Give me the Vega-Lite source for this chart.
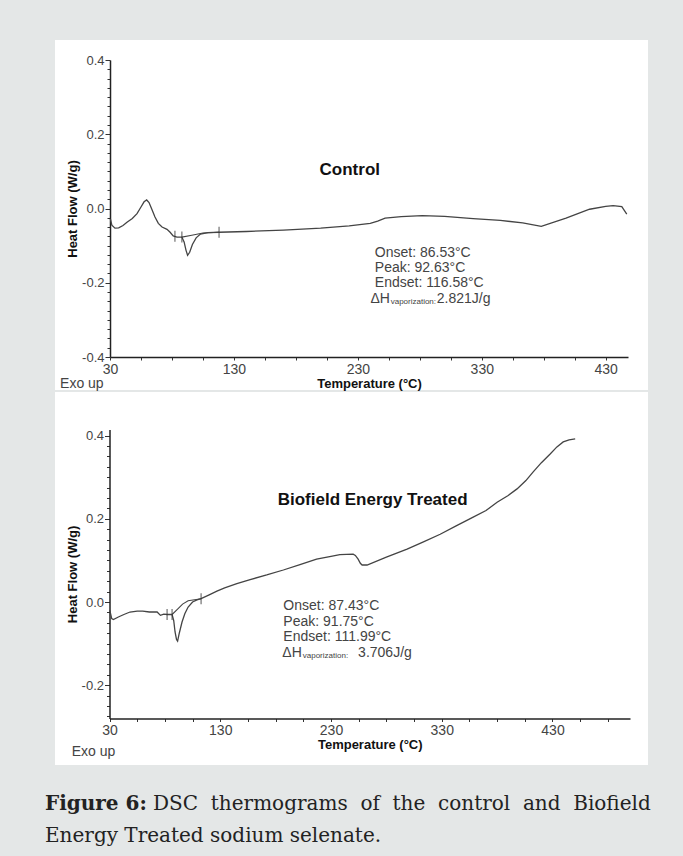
{
  "$schema": "https://vega.github.io/schema/vega-lite/v6.json",
  "background": "#e4e7e7",
  "padding": {"left": 45, "top": 40, "right": 40, "bottom": 30},
  "spacing": 0,
  "config": {"view": {"stroke": null}, "font": "Liberation Sans"},
  "title": {
    "text": "Figure 6:",
    "subtitle": ["\u200b\u00a0\u00a0\u00a0\u00a0\u00a0\u00a0\u00a0\u00a0\u00a0\u00a0\u00a0\u00a0\u00a0\u00a0\u00a0\u00a0\u00a0DSC \u00a0thermograms \u00a0of \u00a0the \u00a0control \u00a0and \u00a0Biofield", "Energy Treated sodium selenate."],
    "orient": "bottom", "anchor": "start", "dx": -10, "offset": 29,
    "font": "DejaVu Serif", "fontSize": 20, "fontWeight": "bold", "color": "#222", "lineHeight": 20,
    "subtitleFont": "DejaVu Serif", "subtitleFontSize": 20, "subtitleFontWeight": "normal", "subtitleColor": "#222",
    "subtitleLineHeight": 32, "subtitlePadding": -20
  },
  "datasets": {
    "control": [
      {"T": 30.3, "hf": -0.028}, {"T": 31.5, "hf": -0.045}, {"T": 34, "hf": -0.053}, {"T": 37, "hf": -0.052},
      {"T": 40.5, "hf": -0.046}, {"T": 43.7, "hf": -0.037}, {"T": 48, "hf": -0.027}, {"T": 51.8, "hf": -0.014},
      {"T": 55, "hf": 0.004}, {"T": 57.5, "hf": 0.018}, {"T": 59.6, "hf": 0.023}, {"T": 61.5, "hf": 0.016},
      {"T": 63.5, "hf": 0.0}, {"T": 66.3, "hf": -0.023}, {"T": 69, "hf": -0.04}, {"T": 72, "hf": -0.05},
      {"T": 76, "hf": -0.056}, {"T": 78.5, "hf": -0.064}, {"T": 81, "hf": -0.074}, {"T": 84, "hf": -0.077},
      {"T": 88, "hf": -0.077}, {"T": 89.8, "hf": -0.09}, {"T": 91.3, "hf": -0.112}, {"T": 92.6, "hf": -0.126},
      {"T": 94.3, "hf": -0.118}, {"T": 96.5, "hf": -0.097}, {"T": 99.5, "hf": -0.079}, {"T": 103, "hf": -0.069},
      {"T": 109, "hf": -0.065}, {"T": 118, "hf": -0.064}, {"T": 140, "hf": -0.062}, {"T": 170, "hf": -0.058},
      {"T": 200, "hf": -0.053}, {"T": 223, "hf": -0.047}, {"T": 240, "hf": -0.04}, {"T": 246, "hf": -0.034},
      {"T": 252, "hf": -0.026}, {"T": 265, "hf": -0.022}, {"T": 282, "hf": -0.019}, {"T": 300, "hf": -0.021},
      {"T": 323, "hf": -0.027}, {"T": 345, "hf": -0.032}, {"T": 363, "hf": -0.039}, {"T": 378, "hf": -0.048},
      {"T": 398, "hf": -0.026}, {"T": 417, "hf": -0.002}, {"T": 430, "hf": 0.006}, {"T": 436, "hf": 0.008},
      {"T": 443, "hf": 0.005}, {"T": 447, "hf": -0.015}
    ],
    "control_base": [
      {"T": 88, "hf": -0.077}, {"T": 96, "hf": -0.072}, {"T": 105, "hf": -0.066}, {"T": 118, "hf": -0.064}
    ],
    "control_marks": [
      {"T": 82.4, "hf": -0.075}, {"T": 88, "hf": -0.077}, {"T": 118, "hf": -0.064}
    ],
    "control_name": [{"label": "Control", "T": 223.5, "hf": 0.103}],
    "control_ann": [
      {"label": "Onset: 86.53°C", "T": 243.7, "hf": -0.119},
      {"label": "Peak:  92.63°C", "T": 243.7, "hf": -0.159},
      {"label": "Endset: 116.58°C", "T": 243.7, "hf": -0.2},
      {"label": "ΔH", "T": 240.2, "hf": -0.243},
      {"label": "2.821J/g", "T": 293.7, "hf": -0.243},
      {"label": "Exo up", "T": -10.3, "hf": -0.473}
    ],
    "control_sub": [{"label": "vaporization:", "T": 256.5, "hf": -0.251}],
    "treated": [
      {"T": 30.3, "hf": -0.02}, {"T": 32, "hf": -0.04}, {"T": 33.5, "hf": -0.042}, {"T": 38, "hf": -0.036},
      {"T": 43, "hf": -0.03}, {"T": 48.5, "hf": -0.024}, {"T": 55, "hf": -0.022}, {"T": 60, "hf": -0.022},
      {"T": 66, "hf": -0.024}, {"T": 73, "hf": -0.024}, {"T": 76, "hf": -0.032}, {"T": 79, "hf": -0.029},
      {"T": 82, "hf": -0.03}, {"T": 86.5, "hf": -0.03}, {"T": 88, "hf": -0.045}, {"T": 89.2, "hf": -0.072},
      {"T": 90.5, "hf": -0.09}, {"T": 91.5, "hf": -0.094}, {"T": 93, "hf": -0.075}, {"T": 95.5, "hf": -0.048},
      {"T": 98, "hf": -0.028}, {"T": 101, "hf": -0.012}, {"T": 105, "hf": 0.0}, {"T": 109, "hf": 0.005},
      {"T": 112.7, "hf": 0.008}, {"T": 120, "hf": 0.017}, {"T": 127, "hf": 0.026}, {"T": 134, "hf": 0.034},
      {"T": 145, "hf": 0.044}, {"T": 157, "hf": 0.054}, {"T": 172, "hf": 0.065}, {"T": 187, "hf": 0.077},
      {"T": 202, "hf": 0.09}, {"T": 217, "hf": 0.103}, {"T": 230, "hf": 0.11}, {"T": 238, "hf": 0.114},
      {"T": 250, "hf": 0.115}, {"T": 252, "hf": 0.112}, {"T": 254.5, "hf": 0.103}, {"T": 256.5, "hf": 0.093},
      {"T": 258.1, "hf": 0.089}, {"T": 262.6, "hf": 0.089}, {"T": 280, "hf": 0.108}, {"T": 298.7, "hf": 0.127},
      {"T": 314, "hf": 0.145}, {"T": 328.6, "hf": 0.163}, {"T": 343, "hf": 0.183}, {"T": 358.4, "hf": 0.204},
      {"T": 370, "hf": 0.22}, {"T": 380, "hf": 0.24}, {"T": 390, "hf": 0.256}, {"T": 398, "hf": 0.272},
      {"T": 406, "hf": 0.292}, {"T": 412.6, "hf": 0.313}, {"T": 420, "hf": 0.335}, {"T": 427.9, "hf": 0.356},
      {"T": 434, "hf": 0.373}, {"T": 439.7, "hf": 0.385}, {"T": 445, "hf": 0.39}, {"T": 450.5, "hf": 0.392}
    ],
    "treated_base": [
      {"T": 86.5, "hf": -0.03}, {"T": 91.5, "hf": -0.017}, {"T": 96, "hf": -0.005}, {"T": 101, "hf": 0.003}, {"T": 112.7, "hf": 0.008}
    ],
    "treated_marks": [
      {"T": 82, "hf": -0.03}, {"T": 86.5, "hf": -0.03}, {"T": 112.7, "hf": 0.008}
    ],
    "treated_name": [{"label": "Biofield Energy Treated", "T": 267.6, "hf": 0.245}],
    "treated_ann": [
      {"label": "Onset: 87.43°C", "T": 187, "hf": -0.01},
      {"label": "Peak:  91.75°C", "T": 187, "hf": -0.048},
      {"label": "Endset: 111.99°C", "T": 187, "hf": -0.084},
      {"label": "ΔH", "T": 186.1, "hf": -0.122},
      {"label": "3.706J/g", "T": 254.5, "hf": -0.122},
      {"label": "Exo up", "T": -4.1, "hf": -0.361}
    ],
    "treated_sub": [{"label": "vaporization:", "T": 204.5, "hf": -0.129}]
  },
  "vconcat": [
    {
      "width": 593, "height": 350,
      "view": {"fill": "white", "stroke": null},
      "encoding": {
        "x": {
          "field": "T", "type": "quantitative",
          "scale": {"domain": [30, 448], "range": [55, 573], "nice": false, "zero": false},
          "axis": {
            "title": "Temperature (°C)", "titleFont": "Liberation Sans", "titleFontSize": 13, "titleFontWeight": "bold", "titleColor": "#111", "titlePadding": 1,
            "offset": -33,
            "values": [30, 55, 80, 105, 130, 155, 180, 205, 230, 255, 280, 305, 330, 355, 380, 405, 430],
            "labelExpr": "(datum.value - 30) % 100 === 0 ? format(datum.value, 'd') : ''",
            "labelFont": "Liberation Sans", "labelFontSize": 14, "labelColor": "#444", "labelPadding": 2,
            "labelFlush": false, "labelOverlap": false,
            "tickSize": 3, "tickColor": "#333", "domainColor": "#222", "domainWidth": 1.5, "grid": false
          }
        },
        "y": {
          "field": "hf", "type": "quantitative",
          "scale": {"domain": [-0.4, 0.4], "range": [317, 20], "nice": false, "zero": false},
          "axis": {
            "title": "Heat Flow (W/g)", "titleFont": "Liberation Sans", "titleFontSize": 13, "titleFontWeight": "bold", "titleColor": "#111", "titlePadding": 2,
            "offset": -55,
            "values": [-0.4, -0.375, -0.35, -0.325, -0.3, -0.275, -0.25, -0.225, -0.2, -0.175, -0.15, -0.125, -0.1, -0.075, -0.05, -0.025, 0, 0.025, 0.05, 0.075, 0.1, 0.125, 0.15, 0.175, 0.2, 0.225, 0.25, 0.275, 0.3, 0.325, 0.35, 0.375, 0.4],
            "labelExpr": "abs(datum.value * 5 - round(datum.value * 5)) < 0.01 ? replace(format(datum.value, '.1f'), '−', '-') : ''",
            "labelFont": "Liberation Sans", "labelFontSize": 13, "labelColor": "#444", "labelPadding": 1,
            "labelFlush": false, "labelOverlap": false,
            "tickSize": {"condition": {"test": "abs(datum.value * 5 - round(datum.value * 5)) < 0.01", "value": 5}, "value": 3},
            "tickColor": "#333", "domainColor": "#222", "domainWidth": 1.5, "grid": false
          }
        }
      },
      "layer": [
        {"data": {"name": "control"}, "mark": {"type": "line", "color": "#444", "strokeWidth": 1.3}},
        {"data": {"name": "control_base"}, "mark": {"type": "line", "color": "#444", "strokeWidth": 1.1}},
        {"data": {"name": "control_marks"}, "mark": {"type": "tick", "orient": "vertical", "color": "#333", "size": 11, "thickness": 1.2}},
        {"data": {"name": "control_name"}, "mark": {"type": "text", "font": "Liberation Sans", "fontSize": 17, "fontWeight": "bold", "color": "#111", "align": "center", "baseline": "middle"}, "encoding": {"text": {"field": "label"}}},
        {"data": {"name": "control_ann"}, "mark": {"type": "text", "font": "Liberation Sans", "fontSize": 14, "color": "#444", "align": "left", "baseline": "middle"}, "encoding": {"text": {"field": "label"}}},
        {"data": {"name": "control_sub"}, "mark": {"type": "text", "font": "Liberation Sans", "fontSize": 8, "color": "#444", "align": "left", "baseline": "middle"}, "encoding": {"text": {"field": "label"}}}
      ]
    },
    {
      "width": 593, "height": 373,
      "view": {"fill": "white", "stroke": null},
      "encoding": {
        "x": {
          "field": "T", "type": "quantitative",
          "scale": {"domain": [30, 500], "range": [54.5, 575], "nice": false, "zero": false},
          "axis": {
            "title": "Temperature (°C)", "titleFont": "Liberation Sans", "titleFontSize": 13, "titleFontWeight": "bold", "titleColor": "#111", "titlePadding": 1,
            "offset": -46.5,
            "values": [30, 55, 80, 105, 130, 155, 180, 205, 230, 255, 280, 305, 330, 355, 380, 405, 430, 455, 480],
            "labelExpr": "(datum.value - 30) % 100 === 0 ? format(datum.value, 'd') : ''",
            "labelFont": "Liberation Sans", "labelFontSize": 14, "labelColor": "#444", "labelPadding": 2,
            "labelFlush": false, "labelOverlap": false,
            "tickSize": 3, "tickColor": "#333", "domainColor": "#222", "domainWidth": 1.5, "grid": false
          }
        },
        "y": {
          "field": "hf", "type": "quantitative",
          "scale": {"domain": [-0.28, 0.415], "range": [326.5, 37.4], "nice": false, "zero": false},
          "axis": {
            "title": "Heat Flow (W/g)", "titleFont": "Liberation Sans", "titleFontSize": 13, "titleFontWeight": "bold", "titleColor": "#111", "titlePadding": 2,
            "offset": -54.5,
            "values": [-0.275, -0.25, -0.225, -0.2, -0.175, -0.15, -0.125, -0.1, -0.075, -0.05, -0.025, 0, 0.025, 0.05, 0.075, 0.1, 0.125, 0.15, 0.175, 0.2, 0.225, 0.25, 0.275, 0.3, 0.325, 0.35, 0.375, 0.4],
            "labelExpr": "abs(datum.value * 5 - round(datum.value * 5)) < 0.01 ? replace(format(datum.value, '.1f'), '−', '-') : ''",
            "labelFont": "Liberation Sans", "labelFontSize": 13, "labelColor": "#444", "labelPadding": 1,
            "labelFlush": false, "labelOverlap": false,
            "tickSize": {"condition": {"test": "abs(datum.value * 5 - round(datum.value * 5)) < 0.01", "value": 5}, "value": 3},
            "tickColor": "#333", "domainColor": "#222", "domainWidth": 1.5, "grid": false
          }
        }
      },
      "layer": [
        {"data": {"name": "treated"}, "mark": {"type": "line", "color": "#444", "strokeWidth": 1.3}},
        {"data": {"name": "treated_base"}, "mark": {"type": "line", "color": "#444", "strokeWidth": 1.1}},
        {"data": {"name": "treated_marks"}, "mark": {"type": "tick", "orient": "vertical", "color": "#333", "size": 11, "thickness": 1.2}},
        {"data": {"name": "treated_name"}, "mark": {"type": "text", "font": "Liberation Sans", "fontSize": 17, "fontWeight": "bold", "color": "#111", "align": "center", "baseline": "middle"}, "encoding": {"text": {"field": "label"}}},
        {"data": {"name": "treated_ann"}, "mark": {"type": "text", "font": "Liberation Sans", "fontSize": 14, "color": "#444", "align": "left", "baseline": "middle"}, "encoding": {"text": {"field": "label"}}},
        {"data": {"name": "treated_sub"}, "mark": {"type": "text", "font": "Liberation Sans", "fontSize": 8, "color": "#444", "align": "left", "baseline": "middle"}, "encoding": {"text": {"field": "label"}}}
      ]
    }
  ]
}
